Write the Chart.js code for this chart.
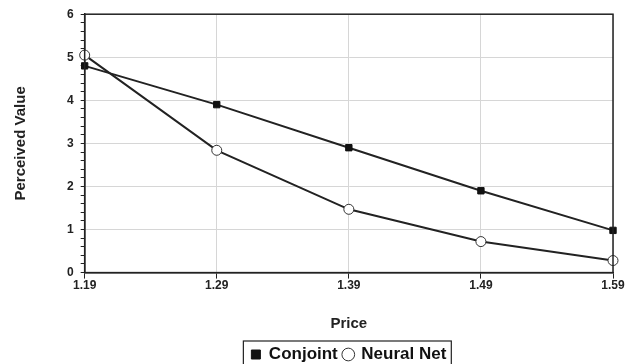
<!DOCTYPE html>
<html>
<head>
<meta charset="utf-8">
<script src="https://cdn.jsdelivr.net/npm/chart.js@4"></script>
<style>
  html, body { margin: 0; padding: 0; background: #fff; }
  #wrap { width: 635px; height: 364px; position: relative; }
</style>
</head>
<body>
<div id="wrap"><canvas id="priceChart"></canvas></div>
<script>
const prices = ["1.19", "1.29", "1.39", "1.49", "1.59"];
const conjoint = [4.8, 3.9, 2.9, 1.9, 0.98];
const neuralNet = [5.05, 2.84, 1.47, 0.72, 0.28];
const yTicks = [0, 1, 2, 3, 4, 5, 6];

const font = "'Liberation Sans', Arial, sans-serif";

// frame around the plot and a box around the legend
const framePlugin = {
  id: 'frame',
  afterLayout(chart) {
    // center the legend under the plot and push it to the bottom edge
    const lg = chart.legend;
    const a = chart.chartArea;
    if (!lg) return;
    const shift = (a.left + a.right) / 2 - (lg.left + lg.right) / 2;
    lg.left += shift;
    lg.right += shift;
    lg.top += 5;
    lg.bottom += 5;
  },
  afterDraw(chart) {
    const ctx = chart.ctx;
    const a = chart.chartArea;
    ctx.save();
    ctx.strokeStyle = '#222';
    ctx.lineWidth = 1.5;
    ctx.strokeRect(a.left, a.top, a.right - a.left, a.bottom - a.top);
    const lg = chart.legend;
    if (lg && lg.legendHitBoxes.length) {
      const boxes = lg.legendHitBoxes;
      const x0 = boxes[0].left - 8;
      const last = boxes[boxes.length - 1];
      const x1 = last.left + last.width + 5;
      const y0 = boxes[0].top - 5;
      const y1 = boxes[0].top + boxes[0].height + 8;
      ctx.lineWidth = 1.2;
      ctx.strokeRect(x0, y0, x1 - x0, y1 - y0);
    }
    ctx.restore();
  }
};

const isWhole = v => Math.abs(v - Math.round(v)) < 1e-6;

const ctx = document.getElementById('priceChart').getContext('2d');
new Chart(ctx, {
  type: 'line',
  data: {
    labels: prices,
    datasets: [
      {
        label: 'Conjoint',
        data: conjoint,
        borderColor: '#222',
        backgroundColor: '#111',
        borderWidth: 2,
        pointStyle: 'rect',
        pointRadius: 4.5,
        pointBorderWidth: 1,
        pointBackgroundColor: '#111',
        pointBorderColor: '#111',
        tension: 0
      },
      {
        label: 'Neural Net',
        data: neuralNet,
        borderColor: '#222',
        backgroundColor: '#fff',
        borderWidth: 2,
        pointStyle: 'circle',
        pointRadius: 5,
        pointBorderWidth: 1,
        pointBackgroundColor: '#fff',
        pointBorderColor: '#333',
        tension: 0
      }
    ]
  },
  options: {
    responsive: true,
    maintainAspectRatio: false,
    animation: false,
    layout: { padding: { top: 6, right: 22, left: 12, bottom: -4 } },
    scales: {
      x: {
        offset: false,
        grid: {
          color: '#d6d6d6',
          tickColor: '#222',
          tickLength: 6,
          drawTicks: true
        },
        border: { color: '#222', width: 1.5 },
        ticks: {
          color: '#222',
          font: { family: font, size: 12, weight: 'bold' },
          maxRotation: 0,
          padding: 0
        },
        title: {
          display: true,
          text: 'Price',
          color: '#222',
          font: { family: font, size: 15, weight: 'bold' },
          padding: { top: 22, bottom: 2 }
        }
      },
      y: {
        min: yTicks[0],
        max: yTicks[yTicks.length - 1],
        ticks: {
          stepSize: 0.2,
          autoSkip: false,
          color: '#222',
          font: { family: font, size: 12, weight: 'bold' },
          padding: 7,
          callback: v => isWhole(v) ? Math.round(v) : ''
        },
        grid: {
          color: c => isWhole(c.tick.value) ? '#d6d6d6' : 'rgba(0,0,0,0)',
          tickColor: '#222',
          tickLength: 4
        },
        border: { color: '#222', width: 1.5 },
        title: {
          display: true,
          text: 'Perceived Value',
          color: '#222',
          font: { family: font, size: 15, weight: 'bold' },
          padding: { top: 0, bottom: 30 }
        }
      }
    },
    plugins: {
      legend: {
        position: 'bottom',
        labels: {
          usePointStyle: true,
          boxWidth: 9,
          boxHeight: 9,
          padding: 6,
          color: '#111',
          font: { family: font, size: 17, weight: 'bold' }
        }
      },
      tooltip: { enabled: false }
    }
  },
  plugins: [framePlugin]
});
</script>
</body>
</html>
